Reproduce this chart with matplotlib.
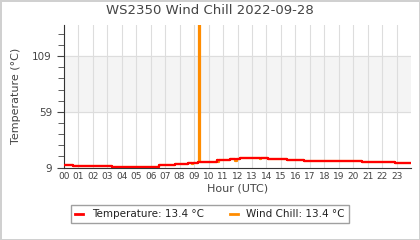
import numpy as np
import matplotlib.pyplot as plt
from matplotlib.ticker import MultipleLocator, FixedLocator

# temperature steps (hour, degC)
temp_hours = [0, 0.6, 3.3, 6.6, 7.7, 8.6, 9.3, 10.6, 11.5, 12.2, 14.1, 15.4, 16.6, 20.6, 22.9, 24]
temp_vals = [11.5, 10.3, 9.4, 11.0, 12.1, 13.3, 14.2, 15.4, 16.6, 17.8, 16.9, 16.0, 15.1, 14.2, 13.4, 13.4]

# wind chill steps, same as temperature apart from a spike and a few dips
chill_hours = [0, 0.6, 3.3, 6.6, 7.7, 8.6, 8.85, 8.95, 9.3, 9.33, 9.38, 10.6, 10.65, 10.75,
               11.5, 11.85, 11.95, 12.2, 13.55, 13.65, 14.1, 15.4, 16.6, 20.6, 22.9, 24]
chill_vals = [11.5, 10.3, 9.4, 11.0, 12.1, 13.3, 11.8, 13.3, 14.2, 140.0, 14.2, 15.4, 14.4, 15.4,
              16.6, 14.8, 16.6, 17.8, 16.6, 17.8, 16.9, 16.0, 15.1, 14.2, 13.4, 13.4]

hour_labels = ['%02d' % h for h in range(24)]
y_major = [9, 59, 109]

fig = plt.figure(figsize=(4.2, 2.4), dpi=100)
fig.patch.set_edgecolor('#d0d0d0')
fig.patch.set_linewidth(1)
ax = fig.add_axes([0.152, 0.302, 0.827, 0.594])

ax.axhspan(59, 109, color='#f4f4f4', zorder=0)
for h in range(24):
    ax.axvline(h, color='#dddddd', lw=0.8, zorder=1)
for v in y_major[1:]:
    ax.axhline(v, color='#dddddd', lw=0.8, zorder=1)

ax.plot(chill_hours, chill_vals, drawstyle='steps-post', color='#ff8c00', lw=1.6, zorder=2,
        label='Wind Chill: %.1f °C' % chill_vals[-1])
ax.plot(temp_hours, temp_vals, drawstyle='steps-post', color='#ff0000', lw=1.6, zorder=3,
        label='Temperature: %.1f °C' % temp_vals[-1])

ax.set_xlim(0, 24)
ax.set_ylim(9, 137)
ax.set_xticks(range(24))
ax.set_xticklabels(hour_labels)
ax.set_yticks(y_major)
ax.yaxis.set_minor_locator(FixedLocator(list(range(19, 137, 10))))
ax.tick_params(axis='x', length=0, labelsize=6.5, colors='#444444', pad=3)
ax.tick_params(axis='y', which='major', length=5, labelsize=7.5, colors='#444444')
ax.tick_params(axis='y', which='minor', length=4, color='#444444')
for s in ['top', 'right']:
    ax.spines[s].set_visible(False)
ax.spines['left'].set_color('#333333')
ax.spines['bottom'].set_color('#333333')

ax.set_xlabel('Hour (UTC)', fontsize=8, color='#444444', labelpad=2)
ax.set_ylabel('Temperature (°C)', fontsize=8, color='#444444', labelpad=8)
fig.suptitle('WS2350 Wind Chill 2022-09-28', fontsize=9.5, color='#444444', y=0.985)

handles, labels = ax.get_legend_handles_labels()
leg = fig.legend(handles[::-1], labels[::-1], loc='center', bbox_to_anchor=(0.5, 0.107), ncol=2,
                 fontsize=7.5, frameon=True, fancybox=False, handlelength=0.8,
                 columnspacing=2.5, borderpad=0.4)
leg.get_frame().set_edgecolor('#888888')
for line in leg.get_lines():
    line.set_linewidth(2)
for t in leg.get_texts():
    t.set_color('#222222')

fig.savefig('out.png', dpi=100)
